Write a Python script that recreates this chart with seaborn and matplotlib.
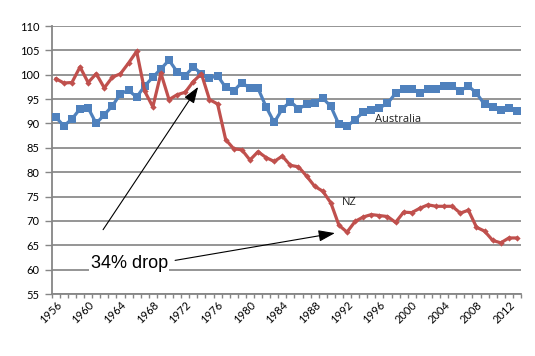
import numpy as np
import pandas as pd
import matplotlib
matplotlib.use("Agg")
import matplotlib.pyplot as plt
import seaborn as sns

years = list(range(1956, 2014))

nz = [99.2, 98.3, 98.4, 101.6, 98.4, 100.2, 97.3, 99.5, 100.2, 102.4,
      104.8, 96.6, 93.4, 100.3, 94.9, 95.9, 96.4, 98.6, 100.2, 94.9,
      94.0, 86.7, 84.8, 84.6, 82.5, 84.2, 83.0, 82.2, 83.3, 81.4,
      81.1, 79.2, 77.1, 76.1, 73.7, 69.1, 67.7, 69.9, 70.8, 71.3,
      71.1, 70.9, 69.7, 71.8, 71.7, 72.6, 73.3, 73.0, 73.0, 73.0,
      71.6, 72.2, 68.7, 67.9, 66.0, 65.5, 66.5, 66.5]

australia = [91.3, 89.5, 90.9, 93.0, 93.2, 90.0, 91.8, 93.6, 96.1, 96.8,
             95.4, 97.7, 99.5, 101.2, 103.0, 100.6, 99.8, 101.6, 100.2, 99.3,
             99.8, 97.4, 96.7, 98.4, 97.2, 97.2, 93.4, 90.2, 93.0, 94.5,
             93.0, 93.9, 94.3, 95.2, 93.5, 89.8, 89.4, 90.8, 92.3, 92.7,
             93.2, 94.1, 96.2, 97.1, 97.1, 96.2, 97.1, 97.0, 97.7, 97.6,
             96.7, 97.7, 96.2, 93.9, 93.3, 92.7, 93.2, 92.5]

yticks = list(range(55, 111, 5))
xtick_years = list(range(1956, 2013, 4))

sns.set_theme(style="white")
plt.rcParams['font.family'] = ['Lato', 'DejaVu Sans']

fig = plt.figure(figsize=(5.35, 3.56), dpi=100)
ax = fig.add_axes([51.7 / 535, 1 - 294 / 356, (521 - 51.7) / 535, (294 - 26) / 356])

df_au = pd.DataFrame({"year": years, "value": australia})
df_nz = pd.DataFrame({"year": years, "value": nz})

sns.lineplot(data=df_au, x="year", y="value", ax=ax, color="#4F81BD",
             linewidth=2.3, marker="s", markersize=5.2, markeredgewidth=0,
             zorder=3)
sns.lineplot(data=df_nz, x="year", y="value", ax=ax, color="#C0504D",
             linewidth=2.3, marker="D", markersize=3.2, markeredgewidth=0,
             zorder=4)

ax.set_xlim(1955.5, 2013.5)
ax.set_ylim(55, 110)
ax.set_yticks(yticks)
ax.set_yticklabels([str(v) for v in yticks], fontsize=8, color="#000000")
ax.set_xticks(xtick_years)
ax.set_xticklabels([str(y) for y in xtick_years], fontsize=8, rotation=45,
                   ha="right", rotation_mode="anchor", color="#000000")
ax.set_xticks(np.arange(1955.5, 2014.0, 1.0), minor=True)
ax.tick_params(axis="x", which="major", length=0, pad=4)
ax.tick_params(axis="x", which="minor", length=3, width=1, color="#868686",
               direction="out", bottom=True)
ax.tick_params(axis="y", which="major", length=5, width=1, color="#868686",
               direction="out", left=True, pad=4)
ax.set_xlabel("")
ax.set_ylabel("")

ax.grid(axis="y", color="#8C8C8C", linewidth=1.3, zorder=0)
ax.set_axisbelow(True)
for side in ["top", "right"]:
    ax.spines[side].set_visible(False)
for side in ["left", "bottom"]:
    ax.spines[side].set_color("#868686")
    ax.spines[side].set_linewidth(1.3)

ax.text(1998.3, 90.9, "Australia", fontsize=8, ha="center", va="center",
        family=["Open Sans", "DejaVu Sans"], color="#222222", zorder=5)
ax.text(1992.3, 73.7, "NZ", fontsize=8, ha="center", va="center",
        family=["Open Sans", "DejaVu Sans"], color="#222222", zorder=5)

ax.text(1965.1, 61.3, "34% drop", fontsize=13, ha="center", va="center",
        family=["Liberation Sans", "DejaVu Sans"], color="black", zorder=6,
        bbox=dict(facecolor="white", edgecolor="none", pad=1))

arrow_kw = dict(arrowstyle="-|>,head_length=1.0,head_width=0.35",
                color="black", lw=0.8, shrinkA=0, shrinkB=0, mutation_scale=10)
ax.annotate("", xy=(1973.6, 97.5), xytext=(1961.85, 68.2),
            arrowprops=arrow_kw, zorder=6)
ax.annotate("", xy=(1990.5, 67.5), xytext=(1970.75, 61.9),
            arrowprops=arrow_kw, zorder=6)

leg = ax.get_legend()
if leg is not None:
    leg.remove()

fig.savefig("out.png", dpi=100)
